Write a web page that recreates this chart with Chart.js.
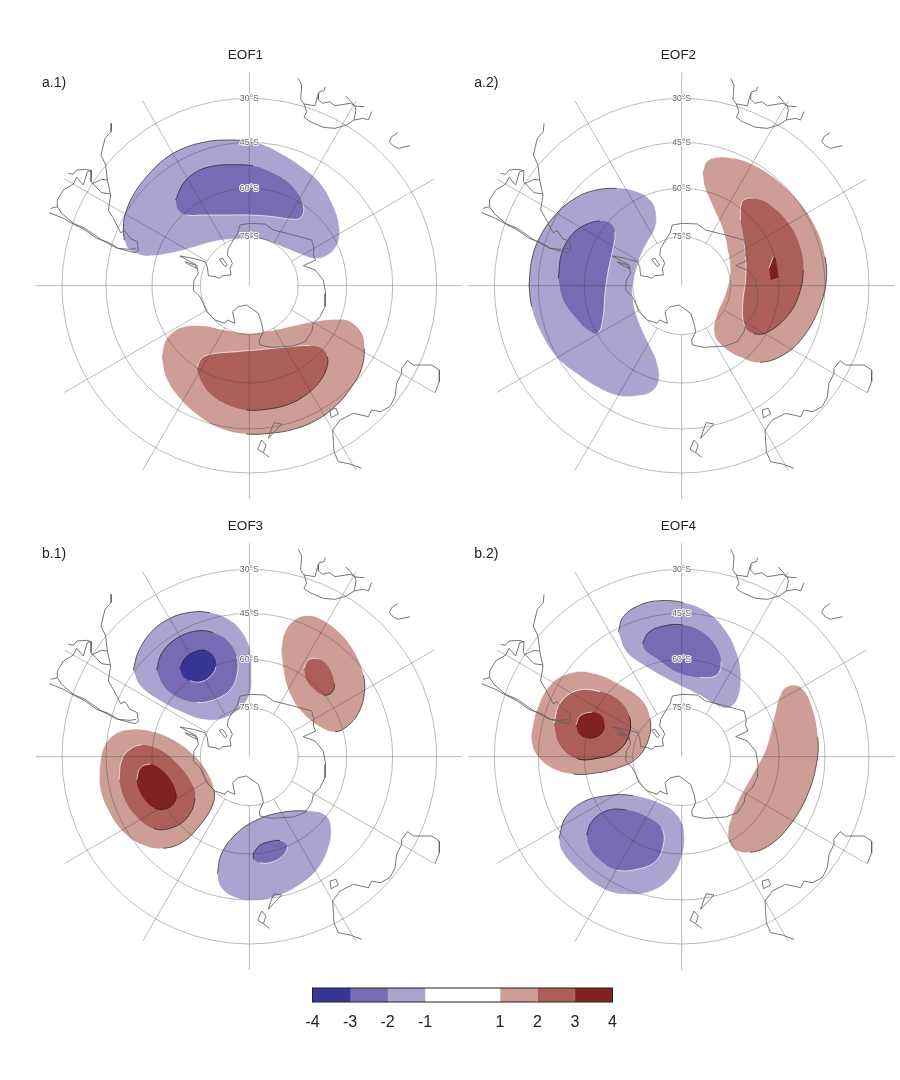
<!DOCTYPE html>
<html>
<head>
<meta charset="utf-8">
<title>EOF maps</title>
<script src="https://cdn.jsdelivr.net/npm/chart.js@4/dist/chart.umd.js"></script>
<style>
  html, body { margin: 0; padding: 0; background: #fff; }
  canvas { position: absolute; }
</style>
</head>
<body>
<script>
// Every contour runs clockwise so the shaded edge can be picked from its direction.

const latLabels = ['75°S', '60°S', '45°S', '30°S'];
const latRadii = [147, 292, 430, 562];
const lonAngles = [0, 30, 60, 90, 120, 150, 180, 210, 240, 270, 300, 330];

// colour bar
const barEdges = [-4, -3, -2, -1, 1, 2, 3, 4];
const barColors = ['#393597', '#786bb3', '#aca3d0', '#ffffff', '#ce9e96', '#ab5f58', '#802020'];

// coastlines, in the frame of panel a.1
const coastLines = [
  [[805,115],[815,135],[812,178],[822,192],[855,197],[862,170],[868,155],[882,152],[886,140]],
  [[866,160],[865,178],[877,190],[898,185],[915,197],[962,190],[975,198],[948,168]],
  [[975,198],[1003,200]],
  [[975,198],[978,210],[972,240],[1000,235],[1015,240],[1025,215]],
  [[822,192],[830,215],[822,232],[840,245],[880,262],[915,265],[950,255],[972,240]],
  [[1103,278],[1085,290],[1078,305],[1090,318],[1105,325],[1140,317]],
  [[245,250],[243,275],[225,295],[213,345],[227,375],[232,420],[242,465],[235,510],[250,535],[272,578],[285,572],[300,595],[322,605],[325,632],[315,638],[290,632],[265,625],[235,607],[200,595],[165,570],[130,552],[100,535],[58,518]],
  [[62,505],[82,500],[82,480],[100,450],[130,432],[140,412],[160,435],[172,395],[185,392],[183,425],[215,458],[242,462]],
  [[115,400],[130,403],[140,390],[170,388],[185,392]],
  [[185,432],[215,418],[232,420]],
  [[82,500],[95,520],[130,550],[165,565],[215,600],[262,625],[300,628],[318,625]],
  [[450,648],[490,655],[525,665],[532,680],[535,707],[555,710],[568,715],[578,707],[603,705],[600,685],[607,670],[602,658],[592,645],[595,625],[610,600],[623,580],[630,555],[660,550],[705,552],[730,570],[770,580],[790,585],[845,600],[852,625],[850,645],[857,660],[820,677],[855,690],[880,720],[887,760],[885,800],[870,830],[850,850],[845,875],[825,905],[790,918],[725,922],[690,915],[688,900],[700,875],[695,850],[685,820],[650,795],[625,800],[608,815],[615,850],[592,840],[585,850],[555,840],[530,815],[520,790],[510,770],[490,750],[492,720],[505,700],[500,675],[450,648]],
  [[568,658],[578,655],[592,675],[585,680],[568,658]],
  [[465,665],[495,675],[500,685],[470,670],[465,665]],
  [[900,1110],[918,1105],[925,1122],[903,1133],[900,1110]],
  [[732,1148],[755,1152],[715,1195],[725,1165],[732,1148]],
  [[695,1200],[708,1215],[700,1238],[683,1228],[695,1200]],
  [[700,1238],[718,1252]],
  [[995,1285],[960,1272],[925,1265],[912,1235],[908,1170],[930,1140],[970,1120],[1015,1130],[1025,1110],[1050,1115],[1080,1100],[1095,1070],[1100,1030],[1115,1000],[1115,985],[1133,962],[1150,975],[1205,975],[1228,990],[1228,1025],[1215,1058]]
];

// EOF1 contours
const eof1Neg1 = [[283,600],[280,570],[285,525],[310,465],[350,410],[400,360],[460,325],[530,305],[590,300],[650,303],[700,315],[760,345],[820,385],[870,430],[905,490],[925,545],[928,590],[915,625],[885,650],[855,655],[820,645],[770,625],[720,605],[670,595],[610,597],[550,605],[480,625],[420,640],[355,648],[320,640],[295,625],[283,600]];
const eof1Neg2 = [[437,480],[460,430],[500,395],[550,378],[610,374],[670,378],[720,395],[765,420],[800,455],[818,490],[820,520],[808,535],[790,538],[730,530],[660,525],[590,525],[520,525],[470,525],[445,510],[437,480]];
const eof1Pos1 = [[395,950],[405,905],[430,875],[470,858],[520,858],[580,870],[650,880],[720,872],[790,857],[860,843],[930,838],[965,848],[995,880],[1003,925],[995,985],[965,1040],[920,1095],[860,1140],[790,1168],[720,1180],[650,1182],[580,1168],[510,1130],[450,1075],[410,1015],[395,950]];
const eof1Pos2 = [[500,985],[515,955],[545,942],[620,935],[700,928],[780,920],[840,917],[875,925],[892,950],[890,985],[865,1030],[820,1070],[770,1095],[710,1108],[650,1110],[595,1095],[545,1065],[515,1025],[500,985]];

// EOF2 contours
const eof2Neg1 = [[207,735],[215,660],[240,590],[290,520],[345,475],[400,452],[470,445],[530,455],[570,480],[588,520],[585,565],[560,610],[535,665],[520,720],[518,775],[530,830],[560,900],[590,965],[597,1020],[575,1055],[530,1068],[480,1068],[420,1045],[350,1000],[290,950],[240,870],[215,800],[207,735]];
const eof2Neg2 = [[295,715],[305,640],[335,585],[375,555],[420,543],[450,550],[465,575],[458,630],[445,690],[435,760],[428,840],[412,880],[385,870],[345,830],[310,780],[295,715]];
const eof2Pos1 = [[728,395],[740,365],[770,352],[820,355],[880,375],[950,420],[1020,490],[1070,570],[1095,650],[1098,730],[1075,810],[1030,890],[970,945],[900,967],[850,955],[790,920],[763,880],[770,825],[795,765],[810,700],[805,640],[790,570],[760,500],[735,440],[728,395]];
const eof2Pos2 = [[842,500],[850,480],[880,475],[930,495],[985,550],[1020,620],[1030,690],[1015,770],[980,830],[920,878],[880,880],[855,860],[848,800],[858,700],[852,600],[842,540],[842,500]];
const eof2Pos3 = [[940,650],[947,655],[955,710],[932,718],[927,685],[940,650]];

// EOF3 contours
const eof3NegA1 = [[310,480],[325,425],[365,365],[420,325],[480,307],[540,308],[590,325],[635,365],[660,420],[665,490],[660,550],[625,600],[570,628],[520,628],[455,605],[380,565],[330,525],[310,480]];
const eof3NegA2 = [[380,480],[395,430],[440,385],[500,363],[550,368],[595,395],[620,440],[622,490],[600,540],[550,570],[500,577],[440,560],[400,525],[380,480]];
const eof3NegA3 = [[450,475],[465,445],[495,425],[530,422],[552,440],[558,470],[540,500],[510,516],[480,512],[458,498],[450,475]];
const eof3PosA1 = [[753,420],[765,365],[800,325],[840,317],[885,335],[935,375],[975,430],[1000,495],[1003,550],[985,610],[950,650],[915,665],[870,650],[820,610],[785,560],[762,490],[753,420]];
const eof3PosA2 = [[822,475],[835,450],[865,447],[895,470],[913,520],[905,548],[880,555],[850,535],[830,510],[822,475]];
const eof3PosB1 = [[208,780],[220,715],[255,672],[310,657],[370,665],[430,690],[490,735],[530,785],[552,840],[548,885],[510,945],[460,995],[400,1015],[340,1005],[280,965],[235,900],[210,830],[208,780]];
const eof3PosB2 = [[267,810],[275,750],[300,718],[335,705],[390,720],[445,765],[485,820],[495,865],[470,925],[420,955],[370,955],[320,920],[285,870],[267,810]];
const eof3PosB3 = [[320,810],[330,775],[360,763],[395,780],[425,815],[438,850],[432,880],[405,897],[375,895],[345,870],[325,835],[320,810]];
const eof3NegB1 = [[562,1090],[575,1030],[620,970],[680,930],[750,908],[830,903],[885,915],[903,955],[895,1015],[860,1080],[800,1130],[730,1162],[660,1170],[600,1155],[570,1125],[562,1090]];
const eof3NegB2 = [[670,1030],[690,1005],[720,995],[750,992],[772,1010],[755,1040],[720,1058],[690,1058],[672,1048],[670,1030]];

// EOF4 contours
const eof4NegA1 = [[475,365],[490,320],[540,285],[600,272],[670,278],[740,305],[795,360],[830,430],[842,500],[835,560],[810,592],[780,590],[720,555],[640,515],[560,470],[500,425],[475,365]];
const eof4NegA2 = [[548,400],[565,368],[610,348],[670,345],[725,365],[765,405],[783,455],[770,495],[720,502],[650,485],[590,445],[555,420],[548,400]];
const eof4PosA1 = [[213,675],[230,600],[275,520],[340,487],[400,490],[480,525],[545,570],[570,625],[565,690],[530,745],[470,775],[400,790],[340,792],[270,770],[225,725],[213,675]];
const eof4PosA2 = [[282,640],[300,580],[350,542],[420,545],[475,570],[508,620],[505,680],[470,725],[410,745],[350,745],[300,705],[282,640]];
const eof4PosA3 = [[348,645],[360,618],[395,607],[425,618],[433,645],[422,672],[385,685],[358,672],[348,645]];
const eof4NegB1 = [[297,985],[315,925],[365,878],[440,857],[520,857],[600,880],[650,915],[672,965],[665,1040],[630,1105],[570,1145],[490,1152],[420,1130],[345,1070],[305,1020],[297,985]];
const eof4NegB2 = [[380,975],[395,935],[440,902],[500,900],[560,920],[605,955],[610,1005],[585,1055],[530,1078],[470,1080],[420,1050],[390,1015],[380,975]];
const eof4PosB1 = [[805,950],[830,880],[880,790],[920,710],[945,610],[965,545],[990,527],[1025,535],[1055,590],[1073,680],[1070,760],[1040,860],[990,945],[930,1005],[870,1027],[825,1018],[805,985],[805,950]];

// level -> fill colour, taken from the colour bar
const levelColors = { '-3': '#393597', '-2': '#786bb3', '-1': '#aca3d0', '1': '#ce9e96', '2': '#ab5f58', '3': '#802020' };

// lowest level first; x0/y0 = where unit 0 of the panel's values sits on the page
const panels = [
  { title: 'EOF1', tag: 'a.1)', left: 29, top: 40, x0: 30, y0: 40, cx: 658, cy: 737,
    contours: [[eof1Neg1, -1], [eof1Pos1, 1], [eof1Neg2, -2], [eof1Pos2, 2]] },
  { title: 'EOF2', tag: 'a.2)', left: 462, top: 40, x0: 460, y0: 40, cx: 665, cy: 737,
    contours: [[eof2Neg1, -1], [eof2Pos1, 1], [eof2Neg2, -2], [eof2Pos2, 2], [eof2Pos3, 3]] },
  { title: 'EOF3', tag: 'b.1)', left: 29, top: 511, x0: 30, y0: 510, cx: 658, cy: 740,
    contours: [[eof3NegA1, -1], [eof3PosA1, 1], [eof3PosB1, 1], [eof3NegB1, -1], [eof3NegA2, -2], [eof3PosA2, 2], [eof3PosB2, 2], [eof3NegB2, -2], [eof3NegA3, -3], [eof3PosB3, 3]] },
  { title: 'EOF4', tag: 'b.2)', left: 462, top: 511, x0: 460, y0: 510, cx: 665, cy: 740,
    contours: [[eof4NegA1, -1], [eof4PosA1, 1], [eof4NegB1, -1], [eof4PosB1, 1], [eof4NegA2, -2], [eof4PosA2, 2], [eof4NegB2, -2], [eof4PosA3, 3]] }
];
// EOF4's mid red sits between its outer and core red
panels[3].contours.splice(7, 0, [eof4PosA2, 2]);

const FONT = '"Liberation Sans", Arial, sans-serif';
const UNITS = 3;          // data units per pixel
const MAP_W = 433, MAP_H = 440, TITLE_H = 26;

function toPoints(pairs) {
  return pairs.map(p => ({ x: p[0], y: p[1] }));
}

// all coast pieces in one dataset, broken with gaps and moved to the panel's frame
function coastData(panel) {
  const pts = [];
  coastLines.forEach(line => {
    line.forEach(p => pts.push({ x: p[0] + panel.cx - 658, y: p[1] + panel.cy - 737 }));
    pts.push({ x: NaN, y: NaN });
  });
  return pts;
}

// lit-from-one-side contour edge: dark where the outside faces upper left (negative)
// or lower right (positive), white on the opposite side, no line in between
function edgeColor(level) {
  return function(ctx) {
    const dx = ctx.p1.x - ctx.p0.x, dy = ctx.p1.y - ctx.p0.y;
    const len = Math.sqrt(dx * dx + dy * dy);
    const facing = (level < 0 ? dx - dy : dy - dx) / len;
    if (facing > 0.85) return 'rgba(20,20,20,0.8)';
    if (facing < -0.85) return 'rgba(255,255,255,0.85)';
    return 'rgba(0,0,0,0)';
  };
}

// graticule goes above the fills and below the coast, labels go on top of everything
const graticule = {
  id: 'graticule',
  beforeDatasetDraw(chart, args, opts) {
    if (args.index !== 0) return;
    const xs = chart.scales.x, ys = chart.scales.y;
    const ctx = chart.ctx;
    const px = xs.getPixelForValue(opts.cx), py = ys.getPixelForValue(opts.cy);
    ctx.save();
    ctx.strokeStyle = 'rgba(60,60,60,0.5)';
    ctx.lineWidth = 0.7;
    latRadii.forEach(r => {
      ctx.beginPath();
      ctx.arc(px, py, r / UNITS, 0, Math.PI * 2);
      ctx.stroke();
    });
    lonAngles.forEach(a => {
      const s = Math.sin(a * Math.PI / 180), c = Math.cos(a * Math.PI / 180);
      const inner = a === 0 ? 0 : latRadii[0];   // only the top spoke reaches the pole
      ctx.beginPath();
      ctx.moveTo(px + s * inner / UNITS, py - c * inner / UNITS);
      ctx.lineTo(px + s * 640 / UNITS, py - c * 640 / UNITS);
      ctx.stroke();
    });
    ctx.restore();
  },
  afterDatasetsDraw(chart, args, opts) {
    const xs = chart.scales.x, ys = chart.scales.y;
    const ctx = chart.ctx;
    ctx.save();
    ctx.textAlign = 'center';
    ctx.textBaseline = 'middle';
    ctx.font = '8.7px ' + FONT;
    ctx.lineJoin = 'round';
    latLabels.forEach((label, i) => {
      const x = xs.getPixelForValue(opts.cx), y = ys.getPixelForValue(opts.cy - latRadii[i]);
      ctx.strokeStyle = 'rgba(255,255,255,0.9)';
      ctx.lineWidth = 2;
      ctx.strokeText(label, x, y);
      ctx.fillStyle = '#666';
      ctx.fillText(label, x, y);
    });
    ctx.textAlign = 'left';
    ctx.font = '14px ' + FONT;
    ctx.fillStyle = '#222';
    ctx.fillText(opts.tag, xs.getPixelForValue(opts.cx - 622), ys.getPixelForValue(opts.cy - 607));
    ctx.restore();
  }
};

function addCanvas(left, top, w, h) {
  const c = document.createElement('canvas');
  c.width = w;
  c.height = h;
  c.style.left = left + 'px';
  c.style.top = top + 'px';
  c.style.width = w + 'px';
  c.style.height = h + 'px';
  document.body.appendChild(c);
  return c;
}

panels.forEach(panel => {
  const canvas = addCanvas(panel.left, panel.top, MAP_W, TITLE_H + MAP_H);

  // first dataset is drawn last, so coast first and then the contours top level down
  const datasets = [{
    data: coastData(panel),
    showLine: true,
    borderColor: 'rgba(95,95,95,0.85)',
    borderWidth: 1,
    pointRadius: 0,
    tension: 0,
    spanGaps: false
  }];
  panel.contours.slice().reverse().forEach(c => {
    const level = c[1];
    const tension = c[0] === eof2Pos3 ? 0 : 0.4;
    // styled segments would break up a filled shape, so the edge is its own dataset above the fill
    datasets.push({
      data: toPoints(c[0]),
      showLine: true,
      borderColor: levelColors[level],
      borderWidth: 0.8,
      pointRadius: 0,
      tension: tension,
      segment: { borderColor: edgeColor(level) }
    });
    datasets.push({
      data: toPoints(c[0]),
      showLine: true,
      fill: 'shape',
      backgroundColor: levelColors[level],
      borderWidth: 0,
      pointRadius: 0,
      tension: tension
    });
  });

  const xMin = (panel.left - panel.x0) * UNITS;
  const yMin = (panel.top + TITLE_H - panel.y0) * UNITS;

  new Chart(canvas.getContext('2d'), {
    type: 'scatter',
    data: { datasets: datasets },
    options: {
      responsive: false,
      animation: false,
      layout: { padding: 0, autoPadding: false },
      scales: {
        x: { type: 'linear', display: false, min: xMin, max: xMin + MAP_W * UNITS },
        y: { type: 'linear', display: false, reverse: true, min: yMin, max: yMin + MAP_H * UNITS }
      },
      plugins: {
        legend: { display: false },
        tooltip: { enabled: false },
        title: {
          display: true,
          text: panel.title,
          color: '#222',
          font: { family: FONT, size: 13.5, weight: 'normal', lineHeight: 1.2 },
          padding: { top: 7.6, bottom: 2.2 }
        },
        graticule: { cx: panel.cx, cy: panel.cy, tag: panel.tag }
      }
    },
    plugins: [graticule]
  });
});

// colour bar: one floating bar per colour on a linear axis
const barFrame = {
  id: 'barFrame',
  afterDatasetsDraw(chart) {
    const a = chart.chartArea, ctx = chart.ctx;
    ctx.save();
    ctx.strokeStyle = '#222';
    ctx.lineWidth = 1;
    ctx.strokeRect(a.left, a.top, a.right - a.left, a.bottom - a.top);
    ctx.restore();
  }
};

new Chart(addCanvas(270, 980, 385, 60).getContext('2d'), {
  type: 'bar',
  data: {
    labels: [''],
    datasets: barColors.map((color, i) => ({
      data: [[barEdges[i], barEdges[i + 1]]],
      backgroundColor: color,
      borderWidth: 0,
      grouped: false,
      barPercentage: 1,
      categoryPercentage: 1
    }))
  },
  options: {
    indexAxis: 'y',
    responsive: false,
    animation: false,
    layout: { padding: { left: 42.5, right: 42.5, top: 8, bottom: 0 }, autoPadding: false },
    scales: {
      x: {
        type: 'linear',
        min: -4,
        max: 4,
        grid: { display: false, drawTicks: false },
        border: { display: false },
        afterBuildTicks(axis) { axis.ticks = barEdges.map(v => ({ value: v })); },
        afterFit(axis) { axis.height = 38; },
        ticks: {
          autoSkip: false,
          maxRotation: 0,
          padding: 11,
          color: '#222',
          font: { family: FONT, size: 16 },
          callback: v => String(v)
        }
      },
      y: { display: false }
    },
    plugins: { legend: { display: false }, tooltip: { enabled: false } }
  },
  plugins: [barFrame]
});
</script>
</body>
</html>
